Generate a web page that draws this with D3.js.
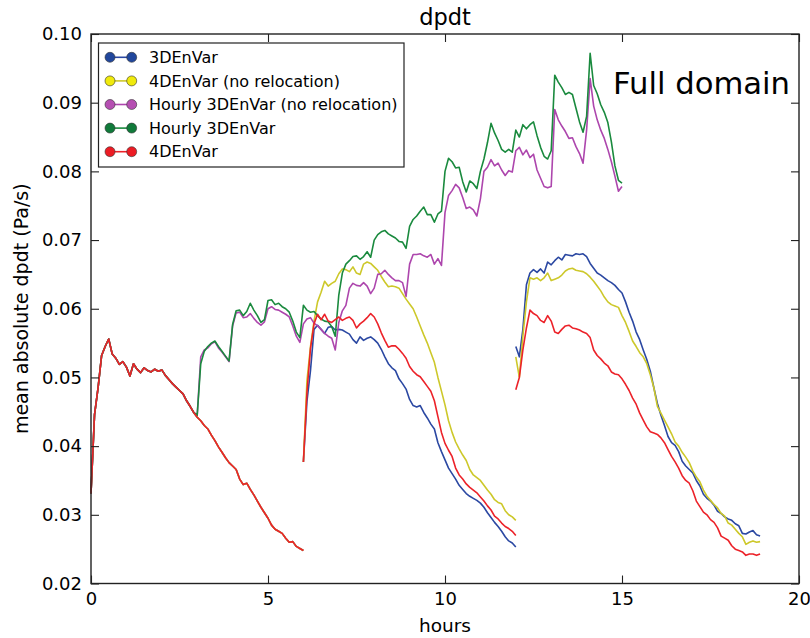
<!DOCTYPE html>
<html>
<head>
<meta charset="utf-8">
<script src="https://cdn.jsdelivr.net/npm/d3@7"></script>
<style>
  body { margin: 0; background: #fff; }
  svg { display: block; }
  text { font-family: "DejaVu Sans", sans-serif; fill: #000; }
</style>
</head>
<body>
<svg id="chart" width="810" height="638"></svg>
<script>
// Sampling interval of every run (hours)
const STEP = 0.1;

// First 6-hour cycle, identical for all runs up to 3 h and for the 6-hourly runs up to 6 h (0.0 .. 6.0 h)
const firstCycle = [
  0.0331,0.0446,0.0485,0.0532,0.0545,0.0556,0.0534,0.0528,0.0519,0.0523,
  0.0515,0.0502,0.0520,0.0512,0.0507,0.0514,0.0510,0.0508,0.0512,0.0509,
  0.0511,0.0503,0.0497,0.0491,0.0486,0.0481,0.0476,0.0466,0.0458,0.0449,
  0.0442,0.0437,0.0430,0.0425,0.0416,0.0408,0.0399,0.0391,0.0383,0.0376,
  0.0371,0.0366,0.0352,0.0344,0.0346,0.0337,0.0329,0.0320,0.0311,0.0303,
  0.0295,0.0285,0.0279,0.0276,0.0273,0.0266,0.0260,0.0261,0.0254,0.0251,
  0.0248
];

// Hourly cycling runs, 3.0 .. 15.0 h
const hourlyNoReloc = [
  0.0445,0.0530,0.0540,0.0543,0.0549,0.0552,0.0543,0.0537,0.0530,0.0523,
  0.0575,0.0594,0.0595,0.0587,0.0588,0.0593,0.0586,0.0580,0.0576,0.0581,
  0.0600,0.0603,0.0599,0.0598,0.0595,0.0592,0.0588,0.0575,0.0560,0.0551,
  0.0578,0.0585,0.0587,0.0579,0.0575,0.0570,0.0564,0.0560,0.0557,0.0540,
  0.0580,0.0597,0.0605,0.0630,0.0637,0.0634,0.0633,0.0638,0.0633,0.0622,
  0.0630,0.0650,0.0651,0.0656,0.0650,0.0645,0.0641,0.0641,0.0638,0.0618,
  0.0665,0.0679,0.0679,0.0680,0.0677,0.0675,0.0679,0.0665,0.0673,0.0663,
  0.0740,0.0765,0.0772,0.0781,0.0776,0.0762,0.0746,0.0748,0.0744,0.0735,
  0.0760,0.0800,0.0806,0.0817,0.0808,0.0812,0.0802,0.0794,0.0801,0.0799,
  0.0830,0.0835,0.0824,0.0831,0.0820,0.0825,0.0802,0.0790,0.0778,0.0776,
  0.0778,0.0890,0.0875,0.0866,0.0858,0.0848,0.0849,0.0836,0.0826,0.0812,
  0.0860,0.0935,0.0895,0.0875,0.0860,0.0848,0.0832,0.0814,0.0793,0.0771,
  0.0778
];
const hourlyReloc = [
  0.0445,0.0520,0.0538,0.0545,0.0550,0.0553,0.0545,0.0538,0.0531,0.0524,
  0.0577,0.0597,0.0598,0.0590,0.0596,0.0608,0.0598,0.0590,0.0580,0.0584,
  0.0612,0.0613,0.0606,0.0608,0.0603,0.0600,0.0595,0.0582,0.0566,0.0558,
  0.0605,0.0598,0.0595,0.0596,0.0590,0.0585,0.0582,0.0581,0.0574,0.0560,
  0.0620,0.0652,0.0665,0.0670,0.0676,0.0677,0.0672,0.0676,0.0683,0.0675,
  0.0700,0.0708,0.0712,0.0714,0.0709,0.0706,0.0703,0.0698,0.0697,0.0688,
  0.0720,0.0730,0.0735,0.0742,0.0748,0.0737,0.0737,0.0726,0.0738,0.0742,
  0.0800,0.0819,0.0814,0.0805,0.0806,0.0785,0.0770,0.0786,0.0782,0.0775,
  0.0800,0.0818,0.0842,0.0870,0.0856,0.0845,0.0832,0.0828,0.0832,0.0828,
  0.0860,0.0850,0.0868,0.0862,0.0868,0.0872,0.0852,0.0835,0.0822,0.0818,
  0.0830,0.0940,0.0930,0.0922,0.0912,0.0915,0.0912,0.0892,0.0872,0.0857,
  0.0880,0.0972,0.0925,0.0913,0.0897,0.0886,0.0871,0.0843,0.0808,0.0787,
  0.0783
];

// Second cycle, 6.0 .. 12.0 h
const envar3dCycle2 = [
  0.0377,0.0465,0.0510,0.0570,0.0576,0.0570,0.0564,0.0573,0.0574,0.0569,
  0.0570,0.0569,0.0566,0.0563,0.0555,0.0550,0.0559,0.0554,0.0557,0.0559,
  0.0555,0.0550,0.0541,0.0530,0.0520,0.0514,0.0510,0.0498,0.0491,0.0483,
  0.0468,0.0459,0.0457,0.0459,0.0449,0.0441,0.0432,0.0425,0.0405,0.0392,
  0.0380,0.0368,0.0360,0.0352,0.0343,0.0337,0.0331,0.0327,0.0324,0.0321,
  0.0317,0.0311,0.0303,0.0296,0.0289,0.0283,0.0276,0.0268,0.0262,0.0259,
  0.0253
];
const envar4dNoRelocCycle2 = [
  0.0377,0.0495,0.0545,0.0582,0.0610,0.0624,0.0640,0.0633,0.0637,0.0640,
  0.0651,0.0658,0.0657,0.0654,0.0661,0.0652,0.0650,0.0665,0.0668,0.0666,
  0.0661,0.0656,0.0647,0.0639,0.0632,0.0633,0.0632,0.0630,0.0622,0.0614,
  0.0607,0.0600,0.0588,0.0575,0.0562,0.0550,0.0536,0.0522,0.0500,0.0480,
  0.0460,0.0437,0.0420,0.0406,0.0396,0.0387,0.0379,0.0366,0.0358,0.0354,
  0.0350,0.0343,0.0336,0.0330,0.0322,0.0318,0.0316,0.0306,0.0300,0.0297,
  0.0292
];
const envar4dCycle2 = [
  0.0377,0.0478,0.0542,0.0578,0.0592,0.0584,0.0592,0.0582,0.0580,0.0584,
  0.0588,0.0583,0.0586,0.0588,0.0583,0.0572,0.0578,0.0582,0.0587,0.0593,
  0.0588,0.0578,0.0565,0.0554,0.0544,0.0546,0.0546,0.0541,0.0535,0.0528,
  0.0516,0.0509,0.0504,0.0501,0.0494,0.0487,0.0480,0.0466,0.0443,0.0420,
  0.0404,0.0394,0.0385,0.0368,0.0358,0.0352,0.0345,0.0340,0.0336,0.0332,
  0.0326,0.0320,0.0313,0.0307,0.0298,0.0294,0.0288,0.0283,0.0280,0.0276,
  0.0270
];

// Third cycle, 12.0 .. 18.9 h
const envar3dCycle3 = [
  0.0545,0.0530,0.0570,0.0635,0.0652,0.0657,0.0653,0.0658,0.0652,0.0668,
  0.0664,0.0670,0.0675,0.0671,0.0679,0.0678,0.0677,0.0680,0.0679,0.0680,
  0.0676,0.0666,0.0659,0.0652,0.0649,0.0645,0.0641,0.0638,0.0634,0.0628,
  0.0623,0.0610,0.0595,0.0582,0.0566,0.0555,0.0540,0.0526,0.0509,0.0485,
  0.0462,0.0445,0.0430,0.0414,0.0405,0.0401,0.0392,0.0378,0.0371,0.0366,
  0.0361,0.0350,0.0342,0.0330,0.0324,0.0320,0.0314,0.0305,0.0302,0.0297,
  0.0294,0.0292,0.0287,0.0284,0.0273,0.0272,0.0275,0.0277,0.0271,0.0269
];
const envar4dNoRelocCycle3 = [
  0.0530,0.0500,0.0560,0.0610,0.0645,0.0643,0.0645,0.0641,0.0645,0.0652,
  0.0641,0.0643,0.0645,0.0649,0.0655,0.0658,0.0659,0.0656,0.0655,0.0654,
  0.0651,0.0646,0.0640,0.0633,0.0626,0.0617,0.0610,0.0606,0.0604,0.0602,
  0.0590,0.0580,0.0567,0.0553,0.0545,0.0536,0.0530,0.0520,0.0504,0.0485,
  0.0458,0.0448,0.0438,0.0428,0.0418,0.0406,0.0400,0.0391,0.0384,0.0376,
  0.0364,0.0355,0.0348,0.0336,0.0327,0.0321,0.0315,0.0310,0.0302,0.0298,
  0.0288,0.0285,0.0279,0.0273,0.0268,0.0257,0.0260,0.0262,0.0260,0.0261
];
const envar4dCycle3 = [
  0.0482,0.0500,0.0540,0.0572,0.0598,0.0593,0.0590,0.0583,0.0580,0.0590,
  0.0582,0.0566,0.0564,0.0570,0.0575,0.0576,0.0572,0.0571,0.0569,0.0566,
  0.0564,0.0558,0.0540,0.0532,0.0527,0.0521,0.0517,0.0508,0.0505,0.0504,
  0.0498,0.0490,0.0481,0.0470,0.0461,0.0448,0.0438,0.0428,0.0421,0.0419,
  0.0417,0.0412,0.0405,0.0395,0.0385,0.0377,0.0368,0.0357,0.0350,0.0346,
  0.0335,0.0320,0.0312,0.0304,0.0300,0.0293,0.0289,0.0281,0.0269,0.0266,
  0.0263,0.0255,0.0250,0.0248,0.0246,0.0241,0.0243,0.0243,0.0241,0.0243
];

// Legend labels (drawing order: last one on top)
const seriesNames = [
  "3DEnVar",
  "4DEnVar (no relocation)",
  "Hourly 3DEnVar (no relocation)",
  "Hourly 3DEnVar",
  "4DEnVar"
];
const lineColors   = ["#2b48a2", "#cdc82a", "#ad46ad", "#1a8a3e", "#ec2229"];
const markerColors = ["#21479c", "#f0ea0c", "#b54fb2", "#107a3a", "#ec1c24"];

// Axis ticks
const xTicks = [0, 5, 10, 15, 20];
const yTicks = [0.02, 0.03, 0.04, 0.05, 0.06, 0.07, 0.08, 0.09, 0.10];

// Each run as a list of forecast segments {start hour, values}
const seriesSegments = [
  [{ start: 0, values: firstCycle }, { start: 6, values: envar3dCycle2 }, { start: 12, values: envar3dCycle3 }],
  [{ start: 0, values: firstCycle }, { start: 6, values: envar4dNoRelocCycle2 }, { start: 12, values: envar4dNoRelocCycle3 }],
  [{ start: 0, values: firstCycle.slice(0, 30).concat(hourlyNoReloc) }],
  [{ start: 0, values: firstCycle.slice(0, 30).concat(hourlyReloc) }],
  [{ start: 0, values: firstCycle }, { start: 6, values: envar4dCycle2 }, { start: 12, values: envar4dCycle3 }]
];

const W = 810, H = 638;
const margin = { left: 91, right: 11, top: 34, bottom: 54.5 };
const plotW = W - margin.left - margin.right;
const plotH = H - margin.top - margin.bottom;

const svg = d3.select("#chart");
const g = svg.append("g").attr("transform", `translate(${margin.left},${margin.top})`);

const x = d3.scaleLinear().domain([0, 20]).range([0, plotW]);
const y = d3.scaleLinear().domain([0.02, 0.10]).range([plotH, 0]);

// Lines
const line = d3.line()
  .x(d => x(d[0]))
  .y(d => y(d[1]));

seriesSegments.forEach((segs, si) => {
  const s = g.append("g").attr("class", "series");
  segs.forEach(seg => {
    const pts = seg.values.map((v, i) => [seg.start + i * STEP, v]);
    s.append("path")
      .datum(pts)
      .attr("d", line)
      .attr("fill", "none")
      .attr("stroke", lineColors[si])
      .attr("stroke-width", 1.6)
      .attr("stroke-linejoin", "round");
  });
});

// Axes with inward ticks on all four sides
const tickLen = 8;
const axStyle = sel => {
  sel.select(".domain").remove();
  sel.selectAll(".tick line").attr("stroke", "#222").attr("stroke-width", 1.1);
};

g.append("g")
  .attr("transform", `translate(0,${plotH})`)
  .call(d3.axisBottom(x).tickValues(xTicks).tickFormat(d3.format("d")).tickSizeInner(-tickLen).tickSizeOuter(0).tickPadding(9))
  .call(axStyle)
  .selectAll("text").attr("font-size", 18).attr("font-family", "DejaVu Sans").attr("fill", "#000");

g.append("g")
  .call(d3.axisTop(x).tickValues(xTicks).tickFormat("").tickSizeInner(-tickLen).tickSizeOuter(0))
  .call(axStyle);

g.append("g")
  .call(d3.axisLeft(y).tickValues(yTicks).tickFormat(d3.format(".2f")).tickSizeInner(-tickLen).tickSizeOuter(0).tickPadding(9))
  .call(axStyle)
  .selectAll("text").attr("font-size", 18).attr("font-family", "DejaVu Sans").attr("fill", "#000");

g.append("g")
  .attr("transform", `translate(${plotW},0)`)
  .call(d3.axisRight(y).tickValues(yTicks).tickFormat("").tickSizeInner(-tickLen).tickSizeOuter(0))
  .call(axStyle);

// Frame
g.append("rect")
  .attr("x", 0).attr("y", 0)
  .attr("width", plotW).attr("height", plotH)
  .attr("fill", "none")
  .attr("stroke", "#222")
  .attr("stroke-width", 1.4);

// Title and axis labels
svg.append("text")
  .attr("x", margin.left + plotW / 2).attr("y", 25)
  .attr("text-anchor", "middle")
  .attr("font-size", 22.5)
  .text("dpdt");

svg.append("text")
  .attr("x", margin.left + plotW / 2).attr("y", 632)
  .attr("text-anchor", "middle")
  .attr("font-size", 18.5)
  .text("hours");

svg.append("text")
  .attr("transform", `translate(28,${margin.top + plotH / 2}) rotate(-90)`)
  .attr("text-anchor", "middle")
  .attr("font-size", 19)
  .text("mean absolute dpdt (Pa/s)");

// Panel annotation
const note = svg.append("text")
  .attr("x", 613).attr("y", 94)
  .attr("font-family", "Lato, 'Open Sans', sans-serif")
  .attr("font-size", 34)
  .text("Full domain");
const noteW = note.node().getComputedTextLength();
note.attr("font-size", 34 * 177 / noteW);

// Legend
const legend = svg.append("g");
legend.append("rect")
  .attr("x", 98.5).attr("y", 43)
  .attr("width", 305.5).attr("height", 124)
  .attr("fill", "#fff")
  .attr("stroke", "#222")
  .attr("stroke-width", 1.2);

seriesNames.forEach((name, i) => {
  const cy = 57.3 + i * 23.6;
  const row = legend.append("g");
  row.append("line")
    .attr("x1", 110).attr("x2", 131.7)
    .attr("y1", cy).attr("y2", cy)
    .attr("stroke", lineColors[i]).attr("stroke-width", 1.6);
  [110, 131.7].forEach(cx => {
    row.append("circle")
      .attr("cx", cx).attr("cy", cy).attr("r", 5)
      .attr("fill", markerColors[i])
      .attr("stroke", "#333")
      .attr("stroke-width", 0.6);
  });
  row.append("text")
    .attr("x", 149).attr("y", cy)
    .attr("dy", "0.36em")
    .attr("font-size", 16)
    .text(name);
});
</script>
</body>
</html>
